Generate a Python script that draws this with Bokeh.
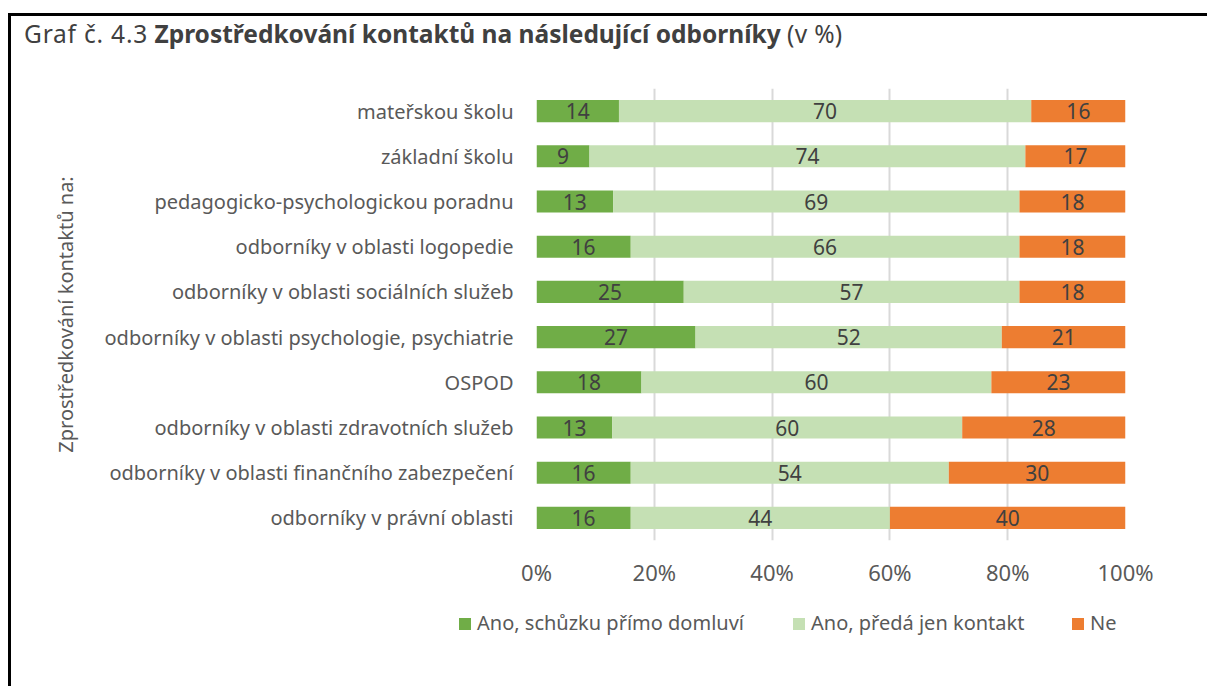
from bokeh.plotting import figure
from bokeh.models import (ColumnDataSource, Range1d, FactorRange, FixedTicker, NumeralTickFormatter, Div)
from bokeh.layouts import column
from bokeh.core.properties import value
from bokeh.embed import file_html
from bokeh.resources import INLINE

categories = [
    "mateřskou školu",
    "základní školu",
    "pedagogicko-psychologickou poradnu",
    "odborníky v oblasti logopedie",
    "odborníky v oblasti sociálních služeb",
    "odborníky v oblasti psychologie, psychiatrie",
    "OSPOD",
    "odborníky v oblasti zdravotních služeb",
    "odborníky v oblasti finančního zabezpečení",
    "odborníky v právní oblasti",
]
ano_primo = [14, 9, 13, 16, 25, 27, 18, 13, 16, 16]
ano_kontakt = [70, 74, 69, 66, 57, 52, 60, 60, 54, 44]
ne = [16, 17, 18, 18, 18, 21, 23, 28, 30, 40]
series_names = ["Ano, schůzku přímo domluví", "Ano, předá jen kontakt", "Ne"]
x_ticks = [0, 0.2, 0.4, 0.6, 0.8, 1.0]
title_prefix = "Graf č. 4.3"
title_main = "Zprostředkování kontaktů na následující odborníky"
title_suffix = "(v %)"
y_title = "Zprostředkování kontaktů na:"

FONT = "Noto Sans"
TXT = "#595959"
colors = ["#70AD47", "#C5E0B4", "#ED7D31"]

tot = [a + b + c for a, b, c in zip(ano_primo, ano_kontakt, ne)]
s1 = [a / t for a, t in zip(ano_primo, tot)]
s2 = [b / t for b, t in zip(ano_kontakt, tot)]
s3 = [c / t for c, t in zip(ne, tot)]
src = ColumnDataSource(dict(cat=categories, s1=s1, s2=s2, s3=s3))

BX, BY = 8, 13        # outer frame position
BW = 3                # frame line width
X0, Y0 = BX + BW, BY + BW
DIV_H = 38
W = 1207 - X0
FL = 536 - X0
FT = 88 - Y0 - DIV_H
FR = W - FL - 589
P_BOTTOM = 600
H = P_BOTTOM - Y0 - DIV_H
FB = H - FT - 452
LEG_H = 686 - P_BOTTOM

p = figure(width=W, height=H, output_backend="svg", toolbar_location=None,
           y_range=FactorRange(*reversed(categories)), x_range=Range1d(0, 1),
           min_border_left=FL, min_border_right=FR, min_border_top=FT, min_border_bottom=FB,
           margin=0)
p.outline_line_color = None
p.background_fill_color = "white"
p.border_fill_color = "white"

rs = p.hbar_stack(["s1", "s2", "s3"], y="cat", height=0.49, color=colors, source=src, line_width=0)

l1 = [v / 2 for v in s1]
l2 = [a + b / 2 for a, b in zip(s1, s2)]
l3 = [a + b + c / 2 for a, b, c in zip(s1, s2, s3)]
lab_src = ColumnDataSource(dict(
    x=l1 + l2 + l3,
    y=categories * 3,
    t=[str(v) for v in ano_primo + ano_kontakt + ne],
))
p.text(x="x", y="y", text="t", source=lab_src, text_align="center", text_baseline="middle",
       text_font=value(FONT), text_font_size="21px", text_color="#404040")

p.xaxis.ticker = FixedTicker(ticks=x_ticks)
p.xaxis.formatter = NumeralTickFormatter(format="0%")
p.xaxis.axis_line_color = None
p.xaxis.major_tick_line_color = None
p.xaxis.minor_tick_line_color = None
p.xaxis.major_label_text_font = FONT
p.xaxis.major_label_text_font_size = "22px"
p.xaxis.major_label_text_color = TXT
p.xaxis.major_label_standoff = 10

p.yaxis.axis_line_color = None
p.yaxis.major_tick_line_color = None
p.yaxis.minor_tick_line_color = None
p.yaxis.major_label_text_font = FONT
p.yaxis.major_label_text_font_size = "20px"
p.yaxis.major_label_text_color = TXT
p.yaxis.major_label_standoff = 17
p.yaxis.axis_label = y_title
p.yaxis.axis_label_text_font = FONT
p.yaxis.axis_label_text_font_size = "20px"
p.yaxis.axis_label_text_font_style = "normal"
p.yaxis.axis_label_text_color = TXT
p.yaxis.axis_label_standoff = 23

p.ygrid.grid_line_color = None
p.xgrid.ticker = FixedTicker(ticks=x_ticks)
p.xgrid.grid_line_color = "#D9D9D9"
p.xgrid.grid_line_width = 2

title = Div(text=(f'<span style="letter-spacing:0.8px">{title_prefix}</span> <b>{title_main}</b> '
                  f'<span style="letter-spacing:0.3px">{title_suffix}</span>'),
            width=W, height=DIV_H, margin=0,
            styles={"font-family": FONT, "font-size": "24.5px", "color": "#404040",
                    "line-height": "35px", "padding-left": "13px", "white-space": "nowrap"})

# legend as HTML (item starts in page px: 459, 793, 1072)
item_w = [793 - 459, 1072 - 793, 120]
items_html = "".join(
    f'<span style="display:inline-block;width:{w}px;white-space:nowrap;">'
    f'<span style="display:inline-block;width:12px;height:12px;background:{c};'
    f'margin-right:6px;vertical-align:middle;position:relative;top:-1px;"></span>{n}</span>'
    for n, c, w in zip(series_names, colors, item_w)
)
legend = Div(text=items_html, width=W, height=LEG_H, margin=0,
             styles={"font-family": FONT, "font-size": "20px", "color": TXT,
                     "line-height": "46px", "padding-left": f"{459 - X0}px", "white-space": "nowrap"})

lay = column(title, p, legend, margin=(BY, 0, 0, BX), spacing=0,
             styles={"border-top": f"{BW}px solid black", "border-left": f"{BW}px solid black",
                     "background-color": "white"})

open("out.html", "w").write(file_html(lay, INLINE))
